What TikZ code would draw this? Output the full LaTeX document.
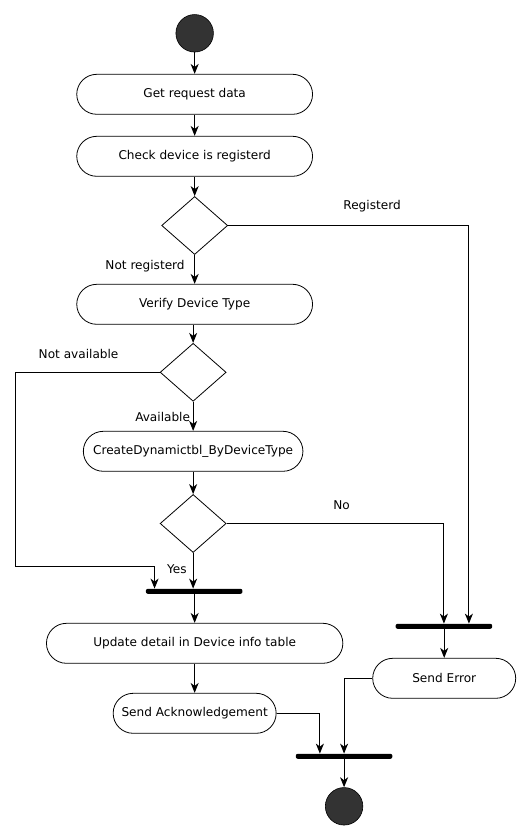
\documentclass[tikz,border=0pt]{standalone}
\usepackage{fontspec}
\setmainfont{DejaVu Sans}
\usetikzlibrary{shapes.geometric,arrows.meta}
\definecolor{dot}{HTML}{333333}
\begin{document}
\begin{tikzpicture}[x=1.0165pt,y=-1pt,
  every node/.style={font=\fontsize{12.1}{14}\selectfont},
  act/.style={draw, line width=0.8pt, rectangle, rounded corners=20pt, minimum height=40pt, inner sep=0pt},
  dec/.style={draw, line width=0.8pt, diamond, minimum width=66pt, minimum height=58pt, inner sep=0pt},
  bar/.style={fill=black, rectangle, rounded corners=2pt, minimum width=96.6pt, minimum height=5pt, inner sep=0pt},
  dot/.style={circle, fill=dot, draw=black, line width=0.6pt, minimum size=37.5pt, inner sep=0pt},
  arr/.style={line width=1pt, -{Stealth[length=10pt,width=8pt,inset=3pt]}},
  lab/.style={inner sep=0pt}]
\useasboundingbox (0,0) rectangle (523.36,840);
\node[dot] (start) at (191.5,33.3) {};
\node[act, minimum width=235.8pt] (get) at (191.5,94.3) {Get request data};
\node[act, minimum width=235.8pt] (check) at (191.5,156.3) {Check device is registerd};
\node[dec] (d1) at (191.5,225.5) {};
\node[act, minimum width=235.8pt] (verify) at (191.5,304.3) {Verify Device Type};
\node[dec] (d2) at (190,372.3) {};
\node[act, minimum width=219.6pt] (cdt) at (190,451.3) {CreateDynamictbl\_ByDeviceType};
\node[dec] (d3) at (190,523.5) {};
\node[bar] (bar1) at (191,591.3) {};
\node[act, minimum width=296.4pt] (update) at (191.5,643.3) {Update detail in Device info table};
\node[act, minimum width=163pt] (ack) at (191.5,713.3) {Send Acknowledgement};
\node[bar] (bar2) at (436.7,626.3) {};
\node[act, minimum width=143pt] (err) at (437,678.3) {Send Error};
\node[bar] (bar3) at (338.5,756.3) {};
\node[dot] (end) at (338.5,806.3) {};
\coordinate (na) at (15,566);

\node[lab] (lreg) at (366,206) {Registerd};
\node[lab] (lnreg) at (142.7,265.7) {Not registerd};
\node[lab] (lna) at (77.3,353.7) {Not available};
\node[lab] (lav) at (160,416.7) {Available};
\node[lab] (lno) at (336,504.7) {No};
\node[lab] (lyes) at (174,568.7) {Yes};

\draw[arr] (start) -- (get);
\draw[arr] (get) -- (check);
\draw[arr] (check) -- (d1);
\draw[arr] (d1) -- (verify);
\draw[arr] (d1.east) -| ([xshift=25pt]bar2.north);
\draw[arr] (verify.south -| d2) -- (d2);
\draw[arr] (d2) -- (cdt);
\draw[arr] (d2.west) -| (na) -| ([xshift=-39.6pt]bar1.north);
\draw[arr] (cdt) -- (d3);
\draw[arr] (d3.south) -- (d3.south |- bar1.north);
\draw[arr] (d3.east) -| (bar2.north);
\draw[arr] (bar1.south -| update) -- (update);
\draw[arr] (update) -- (ack);
\draw[arr] (bar2.south -| err) -- (err);
\draw[arr] (ack.east) -| ([xshift=-24.2pt]bar3.north);
\draw[arr] (err.west) -| (bar3.north);
\draw[arr] (bar3) -- (end);
\end{tikzpicture}
\end{document}
